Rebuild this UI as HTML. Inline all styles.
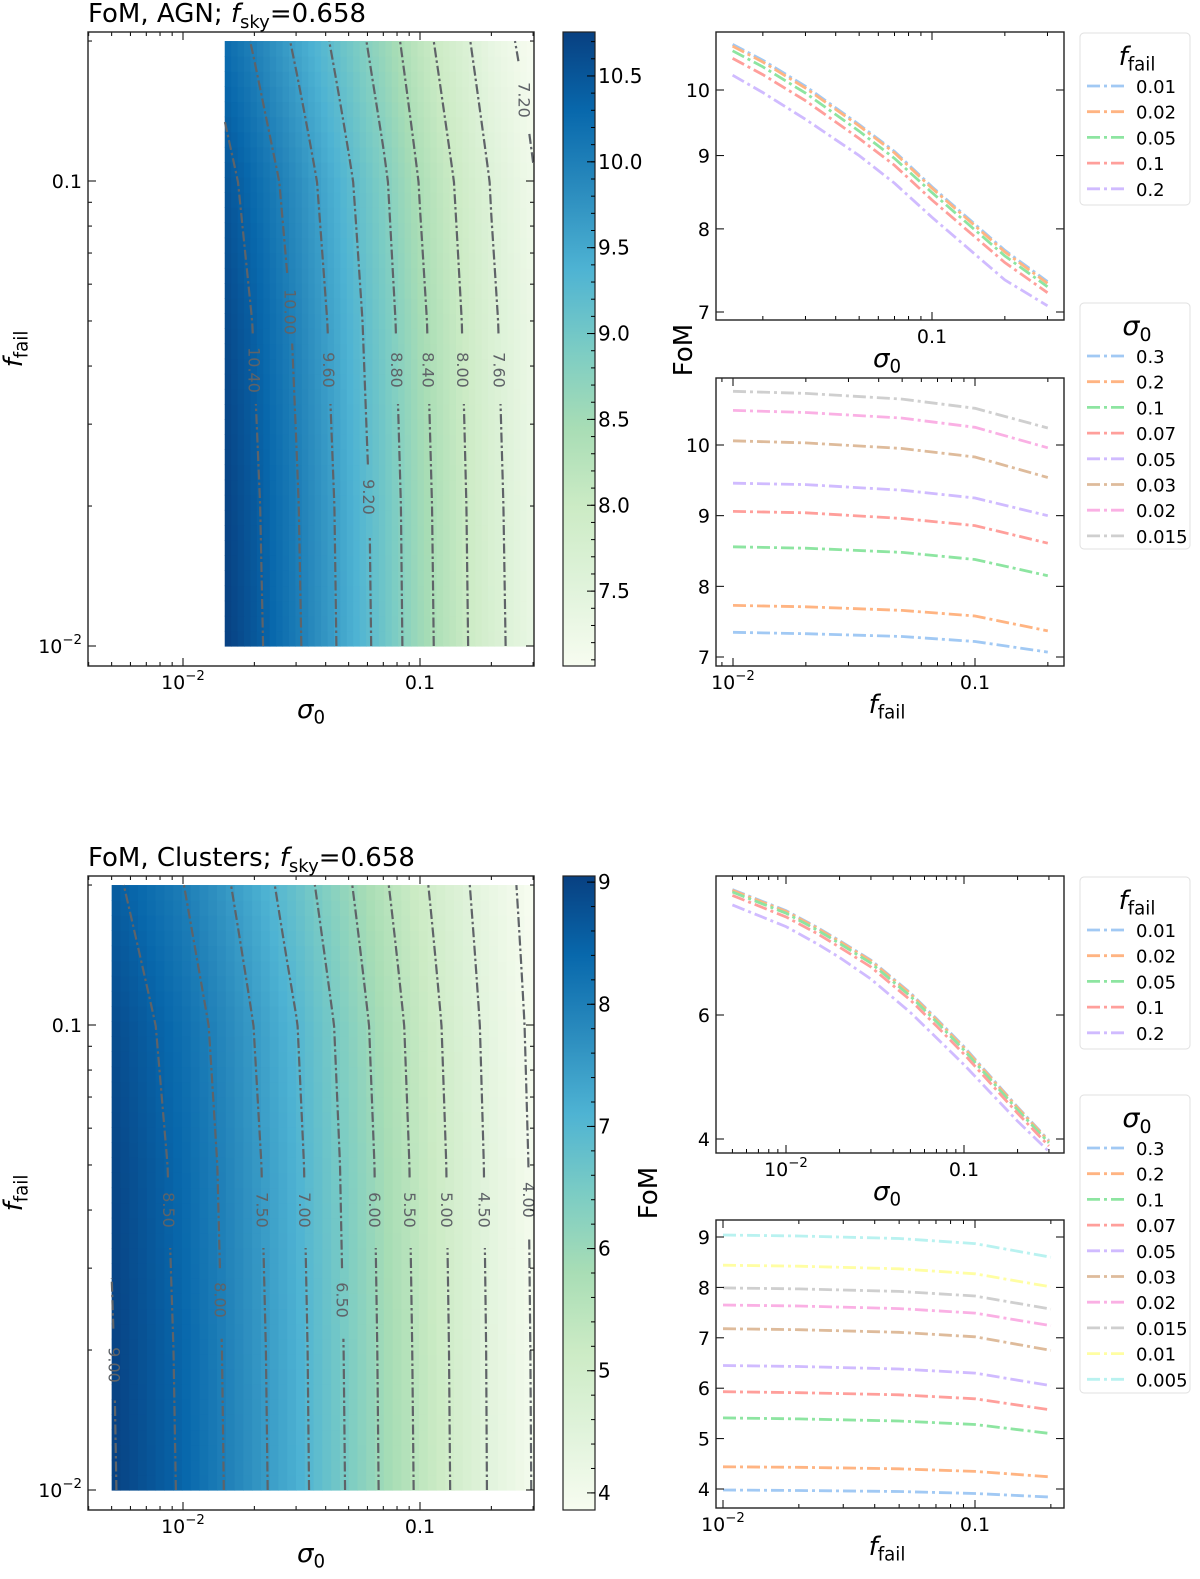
<!DOCTYPE html>
<html><head><meta charset="utf-8"><style>
html,body{margin:0;padding:0;background:#fff;}
svg{display:block;font-family:"DejaVu Sans","Liberation Sans",sans-serif;}
</style></head><body>
<svg id="fig" width="1200" height="1579" viewBox="0 0 1200 1579" xmlns="http://www.w3.org/2000/svg">
<defs>
<linearGradient id="cbgrad" x1="0" y1="1" x2="0" y2="0">
<stop offset="0" stop-color="#f7fcf0"/><stop offset="0.125" stop-color="#e0f3db"/><stop offset="0.25" stop-color="#ccebc5"/><stop offset="0.375" stop-color="#a8ddb5"/><stop offset="0.5" stop-color="#7bccc4"/><stop offset="0.625" stop-color="#4eb3d3"/><stop offset="0.75" stop-color="#2b8cbe"/><stop offset="0.875" stop-color="#0868ac"/><stop offset="1" stop-color="#084081"/>
</linearGradient>
<clipPath id="clipA"><rect x="88" y="32" width="446" height="634"/></clipPath>
<clipPath id="clipC"><rect x="88" y="876" width="446" height="634"/></clipPath>
</defs>
</svg>
<script>
// ---------- data ----------
const ffailVals = [0.01, 0.02, 0.05, 0.1, 0.2];
const agnSigma = [0.015, 0.02, 0.03, 0.05, 0.07, 0.1, 0.2, 0.3];
const agnFom = [
 [10.76,10.73,10.65,10.52,10.24],
 [10.49,10.46,10.38,10.25,9.96],
 [10.06,10.03,9.95,9.83,9.54],
 [9.46,9.44,9.36,9.25,9.00],
 [9.06,9.04,8.96,8.86,8.61],
 [8.56,8.54,8.48,8.38,8.15],
 [7.73,7.71,7.66,7.58,7.37],
 [7.35,7.33,7.29,7.22,7.07]
];
const clSigma = [0.005, 0.01, 0.015, 0.02, 0.03, 0.05, 0.07, 0.1, 0.2, 0.3];
const clFom = [
 [9.04,9.02,8.97,8.87,8.60],
 [8.44,8.42,8.37,8.27,8.01],
 [7.99,7.97,7.92,7.83,7.57],
 [7.65,7.63,7.58,7.49,7.24],
 [7.18,7.16,7.11,7.02,6.75],
 [6.45,6.43,6.38,6.30,6.05],
 [5.93,5.91,5.87,5.79,5.57],
 [5.41,5.39,5.35,5.28,5.10],
 [4.44,4.43,4.40,4.35,4.24],
 [3.98,3.97,3.95,3.91,3.84]
];
const agnLevels = [7.2,7.6,8.0,8.4,8.8,9.2,9.6,10.0,10.4];
const agnLabelY = [100,370,370,370,370,497,370,312,370];
const clLevels = [4.0,4.5,5.0,5.5,6.0,6.5,7.0,7.5,8.0,8.5,9.0];
const clLabelY = [1200,1210,1210,1210,1210,1300,1210,1210,1300,1210,1365];
const agnCbTicks = [7.5,8.0,8.5,9.0,9.5,10.0,10.5];
const clCbTicks = [4,5,6,7,8,9];
const pastel = {0.01:'#a1c9f4',0.02:'#ffb482',0.05:'#8de5a1',0.1:'#ff9f9b',0.2:'#d0bbff'};
const sigColors = {0.3:'#a1c9f4',0.2:'#ffb482',0.1:'#8de5a1',0.07:'#ff9f9b',0.05:'#d0bbff',0.03:'#debb9b',0.02:'#fab0e4',0.015:'#cfcfcf',0.01:'#fffea3',0.005:'#b9f2f0'};

// ---------- helpers ----------
const NS='http://www.w3.org/2000/svg';
const svg=document.getElementById('fig');
function mk(tag,attrs,parent){const e=document.createElementNS(NS,tag);for(const k in attrs)e.setAttribute(k,attrs[k]);(parent||svg).appendChild(e);return e;}
const L=Math.log10;
function logMap(a,pa,b,pb){return v=>pa+(L(v)-L(a))/(L(b)-L(a))*(pb-pa);}
function linMap(a,pa,b,pb){return v=>pa+(v-a)/(b-a)*(pb-pa);}
function fomAt(sig,fom,s,f){
  const ls=L(s),lf=L(f);
  let i=0;while(i<sig.length-2&&ls>L(sig[i+1]))i++;
  let j=0;while(j<ffailVals.length-2&&lf>L(ffailVals[j+1]))j++;
  let u=(ls-L(sig[i]))/(L(sig[i+1])-L(sig[i]));
  let w=(lf-L(ffailVals[j]))/(L(ffailVals[j+1])-L(ffailVals[j]));
  u=Math.max(0,Math.min(1,u));w=Math.max(0,Math.min(1,w));
  return (1-u)*(1-w)*fom[i][j]+u*(1-w)*fom[i+1][j]+(1-u)*w*fom[i][j+1]+u*w*fom[i+1][j+1];
}
const stops=[[0,'#f7fcf0'],[0.125,'#e0f3db'],[0.25,'#ccebc5'],[0.375,'#a8ddb5'],[0.5,'#7bccc4'],[0.625,'#4eb3d3'],[0.75,'#2b8cbe'],[0.875,'#0868ac'],[1,'#084081']];
function hex(c){return [1,3,5].map(i=>parseInt(c.substr(i,2),16));}
function cmap(t){t=Math.max(0,Math.min(1,t));for(let k=0;k<stops.length-1;k++){if(t<=stops[k+1][0]){const a=hex(stops[k][1]),b=hex(stops[k+1][1]);const r=(t-stops[k][0])/(stops[k+1][0]-stops[k][0]);return 'rgb('+a.map((x,i)=>Math.round(x+(b[i]-x)*r)).join(',')+')';}}return stops[8][1];}

const TF=19;
function tickText(x,y,txt,anchor,parent,size){
  size=size||TF;
  const t=mk('text',{x:x,y:y,'text-anchor':anchor,'font-size':size,fill:'#000'},parent);
  if(txt.startsWith('10^')){t.textContent='10';const s=mk('tspan',{'font-size':size*0.7,dy:-9},t);s.textContent=txt.slice(3).replace('-','\u2212');}
  else t.textContent=txt;
  return t;
}
function logTicksX(g,map,x0,x1,y0,y1,labels,minorOn){
  for(let d=-4;d<=1;d++)for(let k=1;k<=9;k++){
    const v=k*Math.pow(10,d);const x=map(v);if(x<x0-0.5||x>x1+0.5)continue;
    if(k!==1&&!minorOn)continue;
    const len=k===1?8:4;
    const t1=mk('line',{x1:x,x2:x,y1:y1,y2:y1-len,stroke:'#000','stroke-width':1},g);
    
    
    mk('line',{x1:x,x2:x,y1:y0,y2:y0+len,stroke:'#000','stroke-width':1},g);
    if(k===1){const key=d===-2?'10^-2':(d===-1?'0.1':null);if(key&&labels.includes(key)){const tt=tickText(x,y1+23,key,'middle',g);}}
  }
}
function logTicksY(g,map,x0,x1,y0,y1,withLabels){
  for(let d=-3;d<=0;d++)for(let k=1;k<=9;k++){
    const v=k*Math.pow(10,d);const y=map(v);if(y<y0-0.5||y>y1+0.5)continue;
    const len=k===1?8:4;
    const t1=mk('line',{x1:x0,x2:x0+len,y1:y,y2:y,stroke:'#000','stroke-width':1},g);
    
    
    mk('line',{x1:x1,x2:x1-len,y1:y,y2:y,stroke:'#000','stroke-width':1},g);
    if(k===1&&withLabels){const key=d===-2?'10^-2':'0.1';const tt=tickText(x0-6,y+7,key,'end',g);}
  }
}
function valTicksY(g,map,vals,x0,x1){
  vals.forEach(v=>{const y=map(v);
    const t1=mk('line',{x1:x0,x2:x0+8,y1:y,y2:y,stroke:'#000','stroke-width':1},g);
    
    
    mk('line',{x1:x1,x2:x1-8,y1:y,y2:y,stroke:'#000','stroke-width':1},g);
    const tt=tickText(x0-6,y+7,String(v),'end',g);
    
    
  });
}
function frame(g,x0,y0,x1,y1){const r=mk('rect',{x:x0,y:y0,width:x1-x0,height:y1-y0,fill:'none',stroke:'#222','stroke-width':1.4},g);}
function sigmaLabel(x,y,size,g){const t=mk('text',{x:x,y:y,'text-anchor':'middle','font-size':size,'font-style':'italic'},g);t.textContent='σ';const s=mk('tspan',{'font-size':size*0.7,dy:size*0.22,'font-style':'normal'},t);s.textContent='0';return t;}
function ffailLabel(x,y,size,g,rot){const t=mk('text',{x:x,y:y,'text-anchor':'middle','font-size':size,'font-style':'italic'},g);if(rot)t.setAttribute('transform','rotate(-90 '+x+' '+y+')');t.textContent='f';const s=mk('tspan',{'font-size':size*0.7,dy:size*0.22,'font-style':'normal'},t);s.textContent='fail';return t;}

// ---------- heatmap panel ----------
function heatPanel(name,sig,fom,y0,y1,ymap,vmin,vmax,levels,labelYs,cbTicks,clip,title){
  const g=mk('g',{});
  
  
  const xmap=logMap(0.01,183,0.1,420);
  const hm=mk('g',{'clip-path':'url(#'+clip+')'},g);
  
  
  const nx=48,ny=40;
  const ls0=L(sig[0]),ls1=L(sig[sig.length-1]),lf0=L(ffailVals[0]),lf1=L(ffailVals[4]);
  for(let a=0;a<nx;a++)for(let b=0;b<ny;b++){
    const sA=Math.pow(10,ls0+(ls1-ls0)*a/nx),sB=Math.pow(10,ls0+(ls1-ls0)*(a+1)/nx);
    const fA=Math.pow(10,lf0+(lf1-lf0)*b/ny),fB=Math.pow(10,lf0+(lf1-lf0)*(b+1)/ny);
    const v=fomAt(sig,fom,Math.sqrt(sA*sB),Math.sqrt(fA*fB));
    const xa=xmap(sA),xb=xmap(sB),ya=ymap(fB),yb=ymap(fA);
    mk('rect',{x:xa,y:ya,width:xb-xa+0.6,height:yb-ya+0.6,fill:cmap((v-vmin)/(vmax-vmin))},hm);
  }
  levels.forEach((lev,li)=>{
    const ly=labelYs[li];let segs=[],cur=[];
    const nr=60;
    for(let b=0;b<=nr;b++){
      const f=Math.pow(10,lf0+(lf1-lf0)*b/nr);
      let lo=ls0,hi=ls1+0.1;
      if(fomAt(sig,fom,Math.pow(10,lo),f)<lev){continue;}
      for(let it=0;it<40;it++){const m=(lo+hi)/2;if(fomAt(sig,fom,Math.pow(10,m),f)>lev)lo=m;else hi=m;}
      const x=xmap(Math.pow(10,lo)),y=ymap(f);
      if(Math.abs(y-ly)<30){if(cur.length)segs.push(cur);cur=[];continue;}
      cur.push([x,y]);
    }
    if(cur.length)segs.push(cur);
    segs.forEach(s=>{if(s.length<2)return;const p=mk('polyline',{points:s.map(q=>q.join(',')).join(' '),fill:'none',stroke:'#5f6368','stroke-width':2.2,'stroke-dasharray':'10,3,2.5,3'},hm);
      
      });
    let lo=ls0,hi=ls1+0.1;const fL=Math.pow(10,L(0.01)+(ymap(0.01)-ly)/(ymap(0.01)-ymap(0.1)));
    for(let it=0;it<40;it++){const m=(lo+hi)/2;if(fomAt(sig,fom,Math.pow(10,m),fL)>lev)lo=m;else hi=m;}
    const lx=xmap(Math.pow(10,lo));
    const t=mk('text',{x:lx,y:ly,'text-anchor':'middle','font-size':16,fill:'#5f6368',transform:'rotate(90 '+lx+' '+ly+')',dy:6},hm);
    
    
    t.textContent=lev.toFixed(2);
  });
  logTicksX(g,xmap,88,534,y0,y1,['10^-2','0.1'],true);
  logTicksY(g,ymap,88,534,y0,y1,true);
  frame(g,88,y0,534,y1);
  const xl=sigmaLabel(311,y1+52,26,g);
  const yl=ffailLabel(22,(y0+y1)/2,26,g,true);
  const tt=mk('text',{x:88,y:y0-10,'font-size':26},g);
  
  
  tt.textContent='FoM, '+title+'; ';
  const ti=mk('tspan',{'font-style':'italic'},tt);ti.textContent='f';
  const ts=mk('tspan',{'font-size':18,dy:6},tt);ts.textContent='sky';
  const te=mk('tspan',{dy:-6},tt);te.textContent='=0.658';
  const cb=mk('g',{},g);
  
  
  mk('rect',{x:563,y:y0,width:32,height:y1-y0,fill:'url(#cbgrad)',stroke:'#222','stroke-width':1.2},cb);
  const cm=linMap(vmin,y1,vmax,y0);
  const step=(cbTicks[1]-cbTicks[0])/5;
  for(let v=Math.ceil(vmin/step)*step;v<=vmax;v+=step){const y=cm(v);mk('line',{x1:595,x2:591,y1:y,y2:y,stroke:'#000','stroke-width':1},cb);}
  cbTicks.forEach(v=>{const y=cm(v);
    const tl=mk('line',{x1:595,x2:587,y1:y,y2:y,stroke:'#000','stroke-width':1},cb);
    
    
    const tx=mk('text',{x:598,y:y+7,'font-size':20},cb);
    
    
    tx.textContent=(cbTicks[1]-cbTicks[0]<1)?v.toFixed(1):String(v);});
}
heatPanel('agn',agnSigma,agnFom,32,666,logMap(0.01,646,0.1,181),7.064,10.756,agnLevels,agnLabelY,agnCbTicks,'clipA','AGN');
heatPanel('clusters',clSigma,clFom,876,1510,logMap(0.01,1490,0.1,1025),3.86,9.05,clLevels,clLabelY,clCbTicks,'clipC','Clusters');

// ---------- line panels ----------
function linePanel(name,x0,y0,x1,y1,xmap,ymap,yticks,xlabels,series,xlab){
  const g=mk('g',{});
  
  
  series.forEach(s=>{
    const pts=s.xs.map((x,i)=>xmap(x).toFixed(1)+','+ymap(s.ys[i]).toFixed(1)).join(' ');
    const p=mk('polyline',{points:pts,fill:'none',stroke:s.color,'stroke-width':2.8,'stroke-dasharray':'13,4,3,4'},g);
    
    
  });
  logTicksX(g,xmap,x0,x1,y0,y1,xlabels,true);
  valTicksY(g,ymap,yticks,x0,x1);
  frame(g,x0,y0,x1,y1);
  let t;
  if(xlab==='sigma')t=sigmaLabel((x0+x1)/2-3,y1+47,26,g);else t=ffailLabel((x0+x1)/2-3,y1+47,26,g,false);
  
  
}
function legend(name,x,y,h,titleType,entries,colors){
  const g=mk('g',{});
  
  
  mk('rect',{x:x,y:y,width:110,height:h,rx:4,fill:'#fff',stroke:'#e0e0e0','stroke-width':1},g);
  let t;if(titleType==='sigma')t=sigmaLabel(x+57,y+32,27,g);else t=ffailLabel(x+57,y+32,26,g,false);
  
  
  entries.forEach((e,i)=>{const yy=y+53+i*25.7;
    const ln=mk('line',{x1:x+7,x2:x+47,y1:yy,y2:yy,stroke:colors[e],'stroke-width':2.8,'stroke-dasharray':'13,4,3,4'},g);
    
    
    const tx=mk('text',{x:x+56,y:yy+7,'font-size':18},g);tx.textContent=String(e);
  });
}
function seriesBySigma(sig,fom,keys){return keys.map(s=>{const i=sig.indexOf(s);return {xs:ffailVals,ys:fom[i],color:sigColors[s]};});}
function seriesByFfail(sig,fom){return ffailVals.map((f,j)=>({xs:sig,ys:fom.map(r=>r[j]),color:pastel[f]}));}

linePanel('agn-fom-vs-sigma',716,32,1064,320,logMap(0.01,690,0.1,932),logMap(10,90,7,312),[7,8,9,10],['0.1'],seriesByFfail(agnSigma,agnFom),'sigma');
linePanel('agn-fom-vs-ffail',716,378,1064,666,logMap(0.01,733,0.1,975),linMap(10,445,7,657),[7,8,9,10],['10^-2','0.1'],seriesBySigma(agnSigma,agnFom,[0.3,0.2,0.1,0.07,0.05,0.03,0.02,0.015]),'ffail');
linePanel('clusters-fom-vs-sigma',716,876,1064,1153,logMap(0.01,786,0.1,964),logMap(6,1015,4,1139),[4,6],['10^-2','0.1'],seriesByFfail(clSigma,clFom),'sigma');
linePanel('clusters-fom-vs-ffail',716,1220,1064,1508,logMap(0.01,723,0.1,975),linMap(9,1237,4,1489),[4,5,6,7,8,9],['10^-2','0.1'],seriesBySigma(clSigma,clFom,[0.3,0.2,0.1,0.07,0.05,0.03,0.02,0.015,0.01,0.005]),'ffail');

legend('agn-ffail-legend',1080,33,172,'ffail',ffailVals,pastel);
legend('agn-sigma-legend',1080,303,246,'sigma',[0.3,0.2,0.1,0.07,0.05,0.03,0.02,0.015],sigColors);
legend('clusters-ffail-legend',1080,877,172,'ffail',ffailVals,pastel);
legend('clusters-sigma-legend',1080,1095,298,'sigma',[0.3,0.2,0.1,0.07,0.05,0.03,0.02,0.015,0.01,0.005],sigColors);

function fomLabel(x,y,name){const t=mk('text',{x:x,y:y,'font-size':26,'text-anchor':'middle',transform:'rotate(-90 '+x+' '+y+')'});
  
  
  t.textContent='FoM';}
fomLabel(692,350,'agn-fom-axis-title');
fomLabel(657,1193,'clusters-fom-axis-title');
</script>
</body></html>
